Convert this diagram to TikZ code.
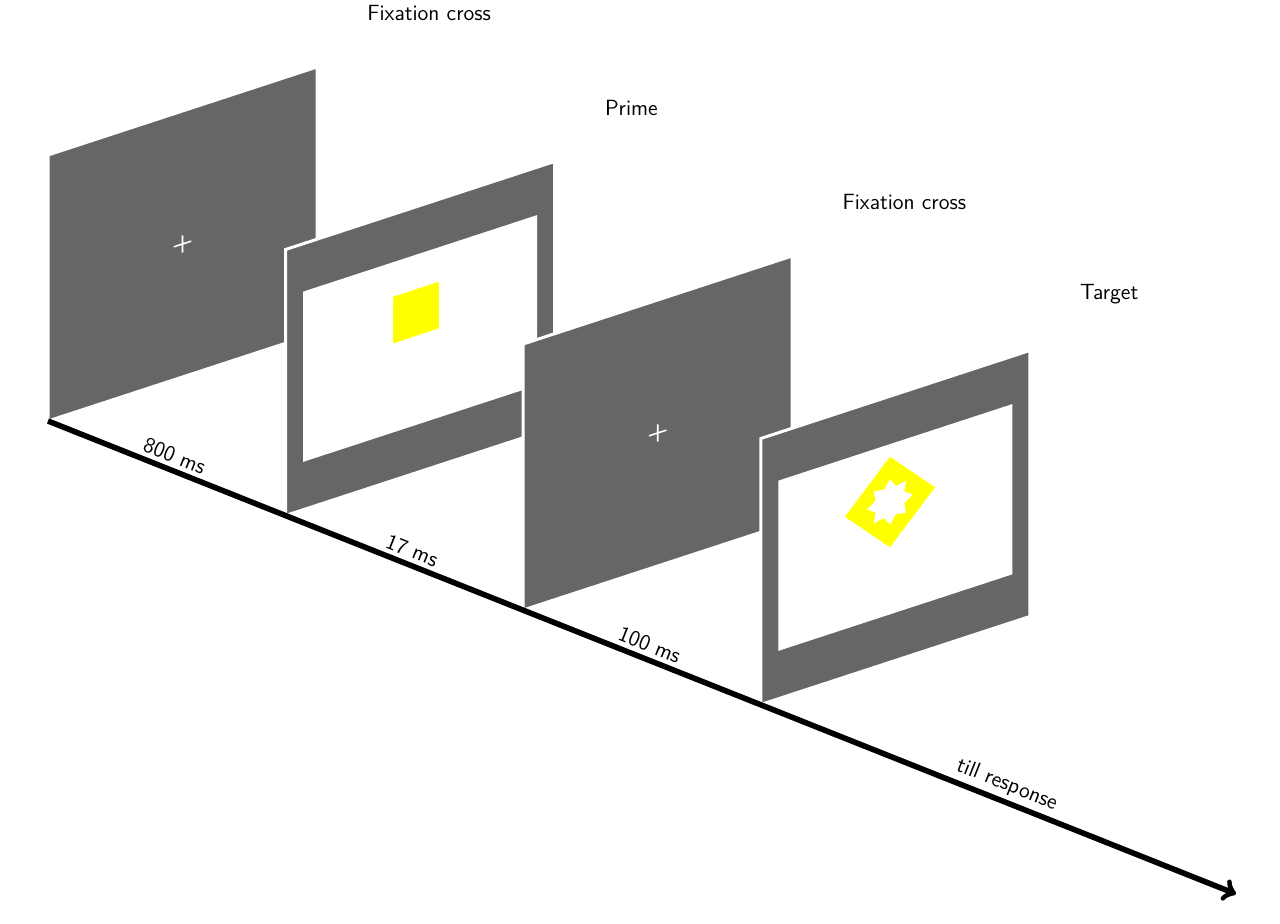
\documentclass[tikz,border=0pt]{standalone}
\usepackage{tikz}
\definecolor{panelgray}{RGB}{102,102,102}
\definecolor{stimyellow}{RGB}{255,255,0}
\tikzset{
  panel/.style={fill=panelgray, draw=white, line width=1.5pt},
  screen/.style={fill=white},
  stim/.style={fill=stimyellow},
  titletext/.style={anchor=west, font=\sffamily\fontsize{11}{13}\selectfont, inner sep=0pt},
  dur/.style={sloped, above, font=\sffamily\fontsize{11}{13}\selectfont, inner sep=2pt},
  fixcross/.style={draw=white, line width=0.8pt},
  timeline/.style={line width=2.8pt, ->},
  panelplane/.style={x={(33.625pt,11pt)}, y={(0pt,33.25pt)}},
}
\begin{document}
\begin{tikzpicture}[x=0.5pt,y=-0.5pt]
\useasboundingbox (0,0) rectangle (1280,924);

% Panel 1: fixation cross
\begin{scope}[shift={(24pt,-210.5pt)}, panelplane]
  \filldraw[panel] (0,0) -- (4,0) -- (4,4) -- (0,4) -- cycle;
  \draw[fixcross] (1.87,2) -- (2.13,2) (2,1.87) -- (2,2.13);
\end{scope}

% Panel 2: prime
\begin{scope}[shift={(142.8pt,-257.75pt)}, panelplane]
  \filldraw[panel] (0,0) -- (4,0) -- (4,4) -- (0,4) -- cycle;
  \fill[screen] (0.26,0.72) -- (3.74,0.72) -- (3.74,3.28) -- (0.26,3.28) -- cycle;
  \fill[stim] (1.6,2.06) -- (2.28,2.06) -- (2.28,2.76) -- (1.6,2.76) -- cycle;
\end{scope}

% Panel 3: fixation cross
\begin{scope}[shift={(261.6pt,-305pt)}, panelplane]
  \filldraw[panel] (0,0) -- (4,0) -- (4,4) -- (0,4) -- cycle;
  \draw[fixcross] (1.87,2) -- (2.13,2) (2,1.87) -- (2,2.13);
\end{scope}

% Panel 4: target
\begin{scope}[shift={(380.4pt,-352.25pt)}, panelplane]
  \filldraw[panel] (0,0) -- (4,0) -- (4,4) -- (0,4) -- cycle;
  \fill[screen] (0.26,0.72) -- (3.74,0.72) -- (3.74,3.28) -- (0.26,3.28) -- cycle;
  \fill[stim] (1.25,2.41) -- (1.92,1.73) -- (2.59,2.41) -- (1.92,3.09) -- cycle;
  \begin{scope}[shift={(1.92,2.41)}]
    \fill[white] (0:0.34) -- (22.5:0.23) -- (45:0.34) -- (67.5:0.23)
      -- (90:0.34) -- (112.5:0.23) -- (135:0.34) -- (157.5:0.23)
      -- (180:0.34) -- (202.5:0.23) -- (225:0.34) -- (247.5:0.23)
      -- (270:0.34) -- (292.5:0.23) -- (315:0.34) -- (337.5:0.23) -- cycle;
  \end{scope}
\end{scope}

% Titles
\node[titletext] (t1) at (367,13) {Fixation cross};
\node[titletext] (t2) at (604.6,107.5) {Prime};
\node[titletext] (t3) at (842.2,202) {Fixation cross};
\node[titletext] (t4) at (1079.8,294) {Target};

% Timeline
\coordinate (tstart) at (48,421);
\coordinate (tend) at (1236,894);
\draw[timeline] (tstart) --
  node[dur, pos=0.102] (d1) {800 ms}
  node[dur, pos=0.302] (d2) {17 ms}
  node[dur, pos=0.502] (d3) {100 ms}
  node[dur, pos=0.802] (d4) {till response}
  (tend);
\end{tikzpicture}
\end{document}
